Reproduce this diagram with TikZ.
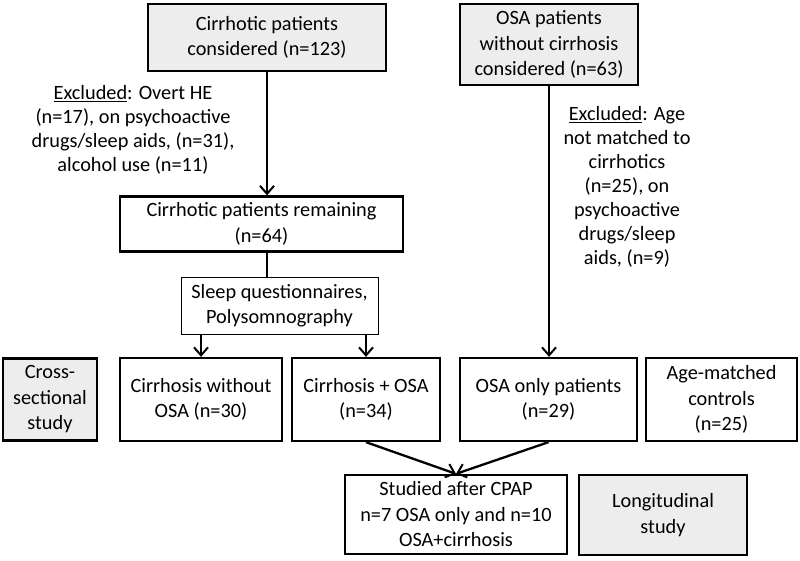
\documentclass[tikz,border=0pt]{standalone}
\usepackage{fontspec}
\setmainfont{Carlito}
\usetikzlibrary{arrows.meta}

\tikzset{every picture/.style={line width=1.5pt}}

\begin{document}
\begin{tikzpicture}[x=1pt, y=-1pt,
    line cap=butt, line join=miter,
    box/.style={draw, line width=2.3pt, align=center, inner sep=2pt,
                font=\fontsize{20.3}{25.5}\selectfont},
    graybox/.style={box, fill=black!7},
    thinbox/.style={box, line width=1pt},
    note/.style={align=center, font=\fontsize{20.3}{24}\selectfont},
    flow/.style={line width=2.3pt, -{Straight Barb[length=8pt,width=14pt,line width=2pt]}}]
  \useasboundingbox (0,0) rectangle (800,560);

  % top boxes
  \node[graybox, minimum width=238pt, minimum height=67pt] (cirr) at (267,37.5)
    {Cirrhotic patients\\considered (n=123)};
  \node[graybox, minimum width=178pt, minimum height=81pt] (osa) at (549,44.5)
    {OSA patients\\without cirrhosis\\considered (n=63)};

  % exclusions
  \node[note] (excla) at (133,130)
    {\underline{Excluded}: Overt HE\\(n=17), on psychoactive\\drugs/sleep aids, (n=31),\\alcohol use (n=11)};
  \node[note] (exclb) at (627,187)
    {\underline{Excluded}: Age\\not matched to\\cirrhotics\\(n=25), on\\psychoactive\\drugs/sleep\\aids, (n=9)};

  % middle
  \node[box, minimum width=283pt, minimum height=55pt] (rem) at (261.5,224)
    {Cirrhotic patients remaining\\(n=64)};
  \node[thinbox, minimum width=197pt, minimum height=57pt] (sleep) at (279.5,305.5)
    {Sleep questionnaires,\\Polysomnography};

  % groups
  \node[graybox, minimum width=94pt, minimum height=82pt] (cross) at (50,399.5)
    {Cross-\\sectional\\study};
  \node[box, minimum width=162pt, minimum height=83pt] (noosa) at (201,399.5)
    {Cirrhosis without\\OSA (n=30)};
  \node[box, minimum width=148pt, minimum height=83pt] (cosa) at (366,399.5)
    {Cirrhosis + OSA\\(n=34)};
  \node[box, minimum width=177pt, minimum height=83pt] (osaonly) at (548.5,399.5)
    {OSA only patients\\(n=29)};
  \node[box, minimum width=151pt, minimum height=83pt] (agem) at (721.5,399.5)
    {Age-matched\\controls\\(n=25)};

  % bottom
  \node[box, minimum width=222pt, minimum height=79pt] (cpap) at (456,514.5)
    {Studied after CPAP\\n=7 OSA only and n=10\\OSA+cirrhosis};
  \node[graybox, minimum width=168pt, minimum height=80pt] (longi) at (663,515)
    {Longitudinal\\study};

  % connectors
  \draw[flow] (cirr.south) -- (cirr.south |- rem.north);
  \draw[line width=2.3pt] (cirr.south |- rem.south) -- (cirr.south |- sleep.north);
  \draw[flow] (sleep.south -| noosa.north) -- (noosa.north);
  \draw[flow] (sleep.south -| cosa.north) -- (cosa.north);
  \draw[flow] (osa.south) -- (osa.south |- osaonly.north);
  \draw[flow] (cosa.south) -- (cpap.north);
  \draw[flow] (osaonly.south) -- (cpap.north);

\end{tikzpicture}
\end{document}
